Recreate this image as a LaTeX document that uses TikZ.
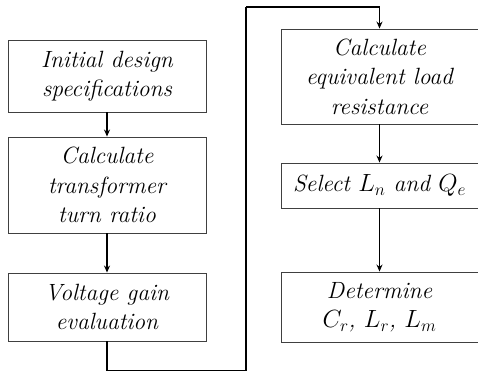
\documentclass[tikz,border=0pt]{standalone}
\usepackage{amsmath}
\usepackage{tikz}
\usetikzlibrary{arrows.meta}
\tikzset{
  stepbox/.style={rectangle,draw=black!75,line width=0.9pt,
    minimum width=198pt,inner sep=2pt,align=center,
    font=\fontsize{23.5}{29.5}\selectfont\itshape},
  flowarrow/.style={line width=1.4pt,-{Stealth[length=7pt,width=6pt]}},
  flowline/.style={line width=1.4pt}
}
\begin{document}
\begin{tikzpicture}[x=1pt,y=1pt]
  \useasboundingbox (0,0) rectangle (478,372);

  % left column
  \node[stepbox,minimum height=72pt] (init) at (107,296)
    {Initial design\\specifications};
  \node[stepbox,minimum height=96pt] (ratio) at (107,187)
    {Calculate\\transformer\\turn ratio};
  \node[stepbox,minimum height=68pt] (gain) at (107,65)
    {Voltage gain\\evaluation};

  % right column
  \node[stepbox,minimum width=197pt,minimum height=95pt] (rload) at (379.5,295.5)
    {Calculate\\equivalent load\\resistance};
  \node[stepbox,minimum width=197pt,minimum height=45pt] (select) at (379.5,186.5)
    {Select $L_n$ and $Q_e$};
  \node[stepbox,minimum width=197pt,minimum height=70pt] (determ) at (379.5,65)
    {Determine\\$C_r$, $L_r$, $L_m$};

  \draw[flowarrow] (init) -- (ratio);
  \draw[flowarrow] (ratio) -- (gain);
  \draw[flowarrow] (rload) -- (select);
  \draw[flowarrow] (select) -- (determ);

  % loop from the left column over to the right one
  \coordinate (loopbot) at (246,1.5);
  \coordinate (looptop) at (246,365);
  \draw[flowline] (gain.south) |- (loopbot) -- (looptop);
  \draw[flowarrow] (looptop) -| (rload.north);
\end{tikzpicture}
\end{document}
